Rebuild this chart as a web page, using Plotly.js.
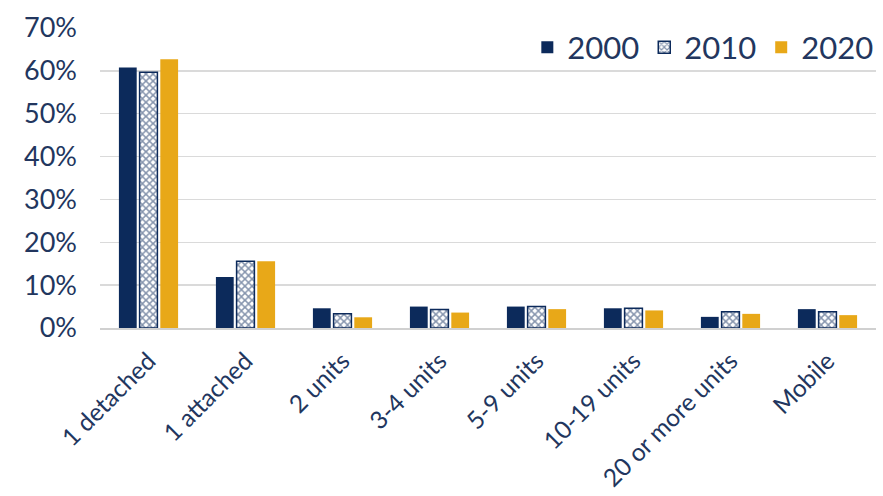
<!DOCTYPE html>
<html>
<head>
<meta charset="utf-8">
<script src="https://cdn.plot.ly/plotly-3.0.1.min.js"></script>
<style>html,body{margin:0;padding:0;background:#fff;}#chart{width:883px;height:496px;}</style>
</head>
<body>
<div id="chart"></div>
<script>
const categories = ["1 detached","1 attached","2 units","3-4 units","5-9 units","10-19 units","20 or more units","Mobile"];
const years = ["2000","2010","2020"];
const values2000 = [0.608,0.119,0.046,0.050,0.050,0.046,0.026,0.044];
const values2010 = [0.597,0.156,0.033,0.043,0.050,0.046,0.038,0.038];
const values2020 = [0.627,0.156,0.025,0.036,0.044,0.041,0.033,0.030];
const yTicks = [0,0.1,0.2,0.3,0.4,0.5,0.6,0.7];

const navy = "#0c2a5b";
const gold = "#e8a818";
const textColor = "#22365e";

const traces = [
  {type:"bar", name:years[0], x:categories, y:values2000, marker:{color:navy}},
  {type:"bar", name:years[1], x:categories, y:values2010,
   marker:{color:"#ffffff", line:{color:navy,width:1.5},
           pattern:{shape:"x", fgcolor:navy, bgcolor:"#ffffff", size:5, solidity:0.5, fillmode:"overlay"}}},
  {type:"bar", name:years[2], x:categories, y:values2020, marker:{color:gold}}
];

const layout = {
  width:883, height:496,
  margin:{l:100, r:5, t:28, b:168},
  paper_bgcolor:"#fff", plot_bgcolor:"#fff",
  font:{family:"Lato, 'Open Sans', sans-serif", color:textColor},
  barmode:"group", bargap:0.36, bargroupgap:0.14,
  showlegend:true,
  legend:{orientation:"h", x:1.003, xanchor:"right", y:0.935, yanchor:"middle",
          font:{size:31, color:textColor}, bgcolor:"rgba(0,0,0,0)", itemwidth:30, traceorder:"normal"},
  xaxis:{type:"category", tickangle:-45, tickfont:{size:24.5, color:textColor},
         showline:true, linecolor:"#d0d0d0", linewidth:2, ticks:"", showgrid:false,
         ticklabelstandoff:7},
  yaxis:{range:[0,0.7], tickvals:yTicks, tickformat:".0%", tickfont:{size:27, color:textColor},
         showgrid:true, gridcolor:"#dadada", gridwidth:1.5, zeroline:false, ticks:"",
         ticklabelstandoff:22}
};

Plotly.newPlot("chart", traces, layout, {displayModeBar:false, staticPlot:true});
</script>
</body>
</html>
